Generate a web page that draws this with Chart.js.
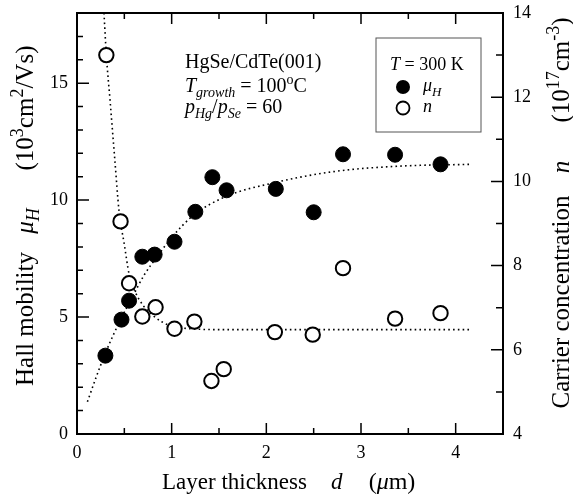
<!DOCTYPE html>
<html>
<head>
<meta charset="utf-8">
<script src="https://cdn.jsdelivr.net/npm/chart.js@4.4.0/dist/chart.umd.min.js"></script>
<style>
  html, body { margin: 0; padding: 0; background: #fff; }
  #wrap { width: 573px; height: 494px; }
</style>
</head>
<body>
<div id="wrap"><canvas id="hallChart" width="573" height="494"></canvas></div>
<script>
// Hall mobility (filled circles, left axis)
const thicknessMu = [0.30, 0.47, 0.55, 0.69, 0.82, 1.03, 1.25, 1.43, 1.58, 2.10, 2.50, 2.81, 3.36, 3.84];
const mobility    = [3.35, 4.89, 5.70, 7.58, 7.67, 8.22, 9.50, 10.98, 10.42, 10.48, 9.48, 11.96, 11.94, 11.53];

// carrier concentration (open circles, right axis)
const thicknessN    = [0.31, 0.46, 0.55, 0.69, 0.83, 1.03, 1.24, 1.42, 1.55, 2.09, 2.49, 2.81, 3.36, 3.84];
const concentration = [13.0, 9.05, 7.58, 6.79, 7.01, 6.50, 6.67, 5.26, 5.54, 6.42, 6.36, 7.94, 6.74, 6.87];

// dotted guide curves
const muFitD = [0.11, 0.20, 0.30, 0.46, 0.57, 0.71, 0.85, 1.00, 1.23, 1.57, 2.08, 2.75, 3.45, 4.17];
const muFitV = [1.38, 2.40, 3.46, 4.89, 5.74, 6.80, 7.60, 8.40, 9.35, 10.15, 10.74, 11.24, 11.46, 11.53];
const nFitD  = [0.285, 0.31, 0.35, 0.40, 0.444, 0.50, 0.55, 0.60, 0.70, 0.80, 0.90, 1.00, 1.20, 1.50, 2.00, 4.17];
const nFitV  = [14.0, 13.0, 11.9, 10.5, 9.3, 8.5, 7.8, 7.45, 7.05, 6.82, 6.66, 6.56, 6.50, 6.48, 6.48, 6.48];

const SERIF = "'Liberation Serif', 'DejaVu Serif', serif";

function pairs(xs, ys) {
    return xs.map((x, i) => ({ x: x, y: ys[i] }));
}

// draws a line of text made of pieces: {t, i: italic, s: 'sub' | 'sup'}
function drawRich(ctx, parts, x, y, size, align) {
    const fontOf = p => (p.i ? 'italic ' : '') + Math.round(p.s ? size * 0.7 : size) + 'px ' + SERIF;
    let total = 0;
    const widths = parts.map(p => {
        ctx.font = fontOf(p);
        const w = ctx.measureText(p.t).width;
        total += w;
        return w;
    });
    let cx = x;
    if (align === 'center') cx = x - total / 2;
    ctx.textAlign = 'left';
    ctx.textBaseline = 'alphabetic';
    parts.forEach((p, k) => {
        ctx.font = fontOf(p);
        let dy = 0;
        if (p.s === 'sub') dy = size * 0.25;
        if (p.s === 'sup') dy = -size * 0.42;
        ctx.fillText(p.t, cx, y + dy);
        cx += widths[k];
    });
}

// vertical title, pieces placed by the screen y of their centres
function drawVertical(ctx, baseX, pieces, size) {
    ctx.save();
    ctx.translate(baseX, 0);
    ctx.rotate(-Math.PI / 2);
    pieces.forEach(pc => drawRich(ctx, pc.parts, -pc.y, 0, size, 'center'));
    ctx.restore();
}

// frame, inward ticks, titles and the inset texts
const decorations = {
    id: 'decorations',
    afterDraw(chart) {
        const ctx = chart.ctx;
        const area = chart.chartArea;
        const sx = chart.scales.x, sy = chart.scales.y, sy2 = chart.scales.y2;
        ctx.save();
        ctx.strokeStyle = '#000';
        ctx.fillStyle = '#000';

        // ticks
        ctx.lineWidth = 1.5;
        ctx.beginPath();
        sx.ticks.forEach(t => {
            const px = sx.getPixelForValue(t.value);
            const len = Number.isInteger(t.value) ? 11 : 6;
            ctx.moveTo(px, area.bottom); ctx.lineTo(px, area.bottom - len);
            ctx.moveTo(px, area.top); ctx.lineTo(px, area.top + len);
        });
        sy.ticks.forEach(t => {
            const py = sy.getPixelForValue(t.value);
            const len = t.value % 5 === 0 ? 12 : 6;
            ctx.moveTo(area.left, py); ctx.lineTo(area.left + len, py);
        });
        sy2.ticks.forEach(t => {
            const py = sy2.getPixelForValue(t.value);
            const len = t.value % 2 === 0 ? 12 : 7;
            ctx.moveTo(area.right, py); ctx.lineTo(area.right - len, py);
        });
        ctx.stroke();

        // frame
        ctx.lineWidth = 2;
        ctx.strokeRect(area.left, area.top, area.right - area.left, area.bottom - area.top);

        // axis titles
        drawRich(ctx, [{ t: 'Layer thickness' }], 162, 489, 23, 'left');
        drawRich(ctx, [{ t: 'd', i: true }], 331, 489, 23, 'left');
        drawRich(ctx, [{ t: '(' }, { t: 'μ', i: true }, { t: 'm)' }], 392, 489, 24, 'center');

        drawVertical(ctx, 33, [
            { y: 319, parts: [{ t: 'Hall mobility' }] },
            { y: 221, parts: [{ t: 'μ', i: true }, { t: 'H', i: true, s: 'sub' }] },
            { y: 108, parts: [{ t: '(10' }, { t: '3', s: 'sup' }, { t: 'cm' }, { t: '2', s: 'sup' }, { t: '/Vs)' }] }
        ], 25);

        drawVertical(ctx, 569, [
            { y: 302, parts: [{ t: 'Carrier concentration' }] },
            { y: 167, parts: [{ t: 'n', i: true }] },
            { y: 70, parts: [{ t: '(10' }, { t: '17', s: 'sup' }, { t: 'cm' }, { t: '-3', s: 'sup' }, { t: ')' }] }
        ], 25);

        // sample info
        const tx = 185;
        drawRich(ctx, [{ t: 'HgSe/CdTe(001)' }], tx, 68, 20, 'left');
        drawRich(ctx, [
            { t: 'T', i: true }, { t: 'growth', i: true, s: 'sub' }, { t: ' = 100' }, { t: 'o', s: 'sup' }, { t: 'C' }
        ], tx, 92, 20, 'left');
        drawRich(ctx, [
            { t: 'p', i: true }, { t: 'Hg', i: true, s: 'sub' }, { t: '/' },
            { t: 'p', i: true }, { t: 'Se', i: true, s: 'sub' }, { t: ' = 60' }
        ], tx, 113, 20, 'left');

        // legend box
        const bx = 376, by = 38;
        ctx.lineWidth = 1;
        ctx.strokeStyle = '#555';
        ctx.strokeRect(bx, by, 105, 94);
        ctx.strokeStyle = '#000';
        drawRich(ctx, [{ t: 'T', i: true }, { t: ' = 300 K' }], bx + 14, by + 32, 18, 'left');
        ctx.lineWidth = 1.8;
        ctx.beginPath();
        ctx.arc(bx + 27, by + 49, 7, 0, Math.PI * 2);
        ctx.fill();
        ctx.beginPath();
        ctx.arc(bx + 27, by + 70, 6.5, 0, Math.PI * 2);
        ctx.stroke();
        drawRich(ctx, [{ t: 'μ', i: true }, { t: 'H', i: true, s: 'sub' }], bx + 47, by + 53, 18, 'left');
        drawRich(ctx, [{ t: 'n', i: true }], bx + 47, by + 74, 18, 'left');

        ctx.restore();
    }
};

const tickFont = { family: SERIF, size: 18 };
const noPad = s => { s.paddingTop = 0; s.paddingBottom = 0; s.paddingLeft = 0; s.paddingRight = 0; };

new Chart(document.getElementById('hallChart').getContext('2d'), {
    type: 'scatter',
    data: {
        datasets: [
            {
                label: 'mu fit',
                data: pairs(muFitD, muFitV),
                yAxisID: 'y',
                showLine: true,
                borderColor: '#000',
                borderWidth: 1.6,
                borderDash: [1.6, 3.2],
                pointRadius: 0,
                cubicInterpolationMode: 'monotone',
                order: 2
            },
            {
                label: 'n fit',
                data: pairs(nFitD, nFitV),
                yAxisID: 'y2',
                showLine: true,
                borderColor: '#000',
                borderWidth: 1.6,
                borderDash: [1.6, 3.2],
                pointRadius: 0,
                cubicInterpolationMode: 'monotone',
                order: 2
            },
            {
                label: 'μH',
                data: pairs(thicknessMu, mobility),
                yAxisID: 'y',
                pointRadius: 7.5,
                pointBackgroundColor: '#000',
                pointBorderColor: '#000',
                pointBorderWidth: 1,
                order: 1
            },
            {
                label: 'n',
                data: pairs(thicknessN, concentration),
                yAxisID: 'y2',
                pointRadius: 7.2,
                pointBackgroundColor: '#fff',
                pointBorderColor: '#000',
                pointBorderWidth: 2,
                order: 1
            }
        ]
    },
    options: {
        responsive: false,
        animation: false,
        layout: { padding: { top: 13, left: 0, right: 0, bottom: 0 } },
        plugins: { legend: { display: false }, tooltip: { enabled: false } },
        scales: {
            x: {
                type: 'linear',
                min: 0, max: 4.5,
                grid: { display: false, drawTicks: false },
                border: { display: false },
                ticks: {
                    stepSize: 0.5,
                    color: '#000',
                    font: tickFont,
                    padding: 8,
                    maxRotation: 0,
                    autoSkip: false,
                    callback: v => Number.isInteger(v) ? String(v) : ''
                },
                afterFit: s => { noPad(s); s.height = 60; }
            },
            y: {
                type: 'linear',
                position: 'left',
                min: 0, max: 18,
                grid: { display: false, drawTicks: false },
                border: { display: false },
                ticks: {
                    stepSize: 1,
                    color: '#000',
                    font: tickFont,
                    padding: 9,
                    autoSkip: false,
                    callback: v => v % 5 === 0 ? String(v) : ''
                },
                afterFit: s => { noPad(s); s.width = 77; }
            },
            y2: {
                type: 'linear',
                position: 'right',
                min: 4, max: 14,
                grid: { display: false, drawTicks: false },
                border: { display: false },
                ticks: {
                    stepSize: 1,
                    color: '#000',
                    font: tickFont,
                    padding: 10,
                    autoSkip: false,
                    callback: v => v % 2 === 0 ? String(v) : ''
                },
                afterFit: s => { noPad(s); s.width = 70; }
            }
        }
    },
    plugins: [decorations]
});
</script>
</body>
</html>
